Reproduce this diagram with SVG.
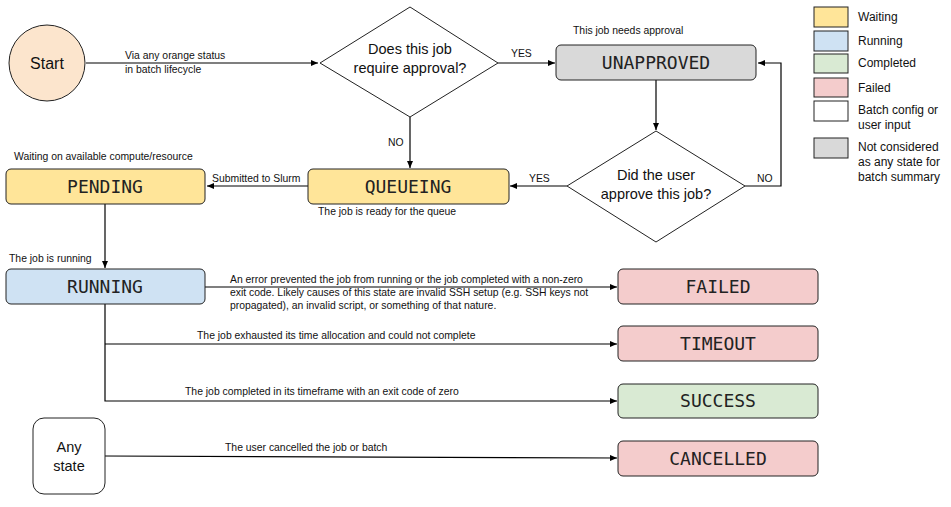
<svg xmlns="http://www.w3.org/2000/svg" width="951" height="507" viewBox="0 0 951 507">
<style>
.lbl{font-family:"Liberation Sans",Arial,sans-serif;font-size:10.4px;fill:#111}
.big{font-family:"Liberation Sans",Arial,sans-serif;font-size:14.5px;fill:#111;text-anchor:middle}
.leg{font-family:"Liberation Sans",Arial,sans-serif;font-size:12px;fill:#111}
.st{font-family:"DejaVu Sans Mono","Liberation Mono",monospace;font-size:18px;fill:#222;text-anchor:middle}
.box{stroke:#222;stroke-width:1}
.con{fill:none;stroke:#000;stroke-width:1.2}
</style>
<defs>
<marker id="ah" markerWidth="8" markerHeight="6" refX="7" refY="3" orient="auto" markerUnits="userSpaceOnUse">
<path d="M0,0 L7,3 L0,6 z" fill="#000"/>
</marker>
</defs>
<rect width="951" height="507" fill="#fff"/>

<g id="connectors">
<path class="con" d="M86,63 H318" marker-end="url(#ah)"/>
<path class="con" d="M498,63 H555" marker-end="url(#ah)"/>
<path class="con" d="M656,80 V130" marker-end="url(#ah)"/>
<path class="con" d="M745,186 H781 V63 H758" marker-end="url(#ah)"/>
<path class="con" d="M567,186 H510" marker-end="url(#ah)"/>
<path class="con" d="M410,117 V168" marker-end="url(#ah)"/>
<path class="con" d="M308,186 H207" marker-end="url(#ah)"/>
<path class="con" d="M105,204 V268" marker-end="url(#ah)"/>
<path class="con" d="M205,287 H617" marker-end="url(#ah)"/>
<path class="con" d="M105,304 V401 H617" marker-end="url(#ah)"/>
<path class="con" d="M105,344 H617" marker-end="url(#ah)"/>
<path class="con" d="M105,456 L617,458" marker-end="url(#ah)"/>
<text class="lbl" x="125" y="59">Via any orange status</text>
<text class="lbl" x="125" y="73">in batch lifecycle</text>
<text class="lbl" x="511" y="57">YES</text>
<text class="lbl" x="757" y="182">NO</text>
<text class="lbl" x="529" y="182">YES</text>
<text class="lbl" x="388" y="146">NO</text>
<text class="lbl" x="212" y="182">Submitted to Slurm</text>
<text class="lbl" x="230" y="283">An error prevented the job from running or the job completed with a non-zero</text>
<text class="lbl" x="230" y="296">exit code.  Likely causes of this state are invalid SSH setup (e.g. SSH keys not</text>
<text class="lbl" x="230" y="309">propagated), an invalid script, or something of that nature.</text>
<text class="lbl" x="197" y="339">The job exhausted its time allocation and could not complete</text>
<text class="lbl" x="185" y="395">The job completed in its timeframe with an exit code of zero</text>
<text class="lbl" x="225" y="451">The user cancelled the job or batch</text>
</g>

<g id="start">
<circle class="box" cx="47" cy="63" r="38" fill="#fce5cd"/>
<text x="47" y="69" font-family="Liberation Sans,Arial,sans-serif" font-size="16" text-anchor="middle" fill="#111">Start</text>
</g>

<g id="decision-approval">
<polygon class="box" points="410,7 498,63 410,117 320,63" fill="#fff"/>
<text class="big" x="410" y="54">Does this job</text>
<text class="big" x="410" y="73">require approval?</text>
</g>

<g id="unapproved">
<text class="lbl" x="573" y="34">This job needs approval</text>
<rect class="box" x="556" y="45" width="200" height="35" rx="5" fill="#d9d9d9"/>
<text class="st" x="656" y="69">UNAPPROVED</text>
</g>

<g id="decision-user">
<polygon class="box" points="656,131 745,186 656,242 567,186" fill="#fff"/>
<text class="big" x="656" y="180">Did the user</text>
<text class="big" x="656" y="199">approve this job?</text>
</g>

<g id="queueing">
<rect class="box" x="308" y="169" width="201" height="35" rx="5" fill="#ffe599"/>
<text class="st" x="408" y="193">QUEUEING</text>
<text class="lbl" x="318" y="215">The job is ready for the queue</text>
</g>

<g id="pending">
<text class="lbl" x="14" y="160">Waiting on available compute/resource</text>
<rect class="box" x="6" y="169" width="199" height="35" rx="5" fill="#ffe599"/>
<text class="st" x="105" y="193">PENDING</text>
</g>

<g id="running">
<text class="lbl" x="9" y="262">The job is running</text>
<rect class="box" x="6" y="269" width="199" height="35" rx="5" fill="#cfe2f3"/>
<text class="st" x="105" y="293">RUNNING</text>
</g>

<g id="failed">
<rect class="box" x="618" y="269" width="200" height="35" rx="5" fill="#f4cccc"/>
<text class="st" x="718" y="293">FAILED</text>
</g>
<g id="timeout">
<rect class="box" x="618" y="326" width="200" height="35" rx="5" fill="#f4cccc"/>
<text class="st" x="718" y="350">TIMEOUT</text>
</g>
<g id="success">
<rect class="box" x="618" y="384" width="200" height="34" rx="5" fill="#d9ead3"/>
<text class="st" x="718" y="407">SUCCESS</text>
</g>
<g id="cancelled">
<rect class="box" x="618" y="441" width="200" height="35" rx="5" fill="#f4cccc"/>
<text class="st" x="718" y="465">CANCELLED</text>
</g>

<g id="any-state">
<rect class="box" x="33" y="418" width="72" height="76" rx="11" fill="#fff"/>
<text class="big" x="69" y="452">Any</text>
<text class="big" x="69" y="471">state</text>
</g>

<g id="legend">
<rect class="box" x="814" y="7" width="34" height="20" fill="#ffe599"/>
<text class="leg" x="858" y="21">Waiting</text>
<rect class="box" x="814" y="31" width="34" height="20" fill="#cfe2f3"/>
<text class="leg" x="858" y="45">Running</text>
<rect class="box" x="814" y="54" width="34" height="19" fill="#d9ead3"/>
<text class="leg" x="858" y="67">Completed</text>
<rect class="box" x="814" y="78" width="34" height="19" fill="#f4cccc"/>
<text class="leg" x="858" y="92">Failed</text>
<rect class="box" x="814" y="101" width="34" height="20" fill="#fff"/>
<text class="leg" x="858" y="114">Batch config or</text>
<text class="leg" x="858" y="129">user input</text>
<rect class="box" x="814" y="138" width="34" height="20" fill="#d9d9d9"/>
<text class="leg" x="858" y="151">Not considered</text>
<text class="leg" x="858" y="166">as any state for</text>
<text class="leg" x="858" y="181">batch summary</text>
</g>
</svg>
